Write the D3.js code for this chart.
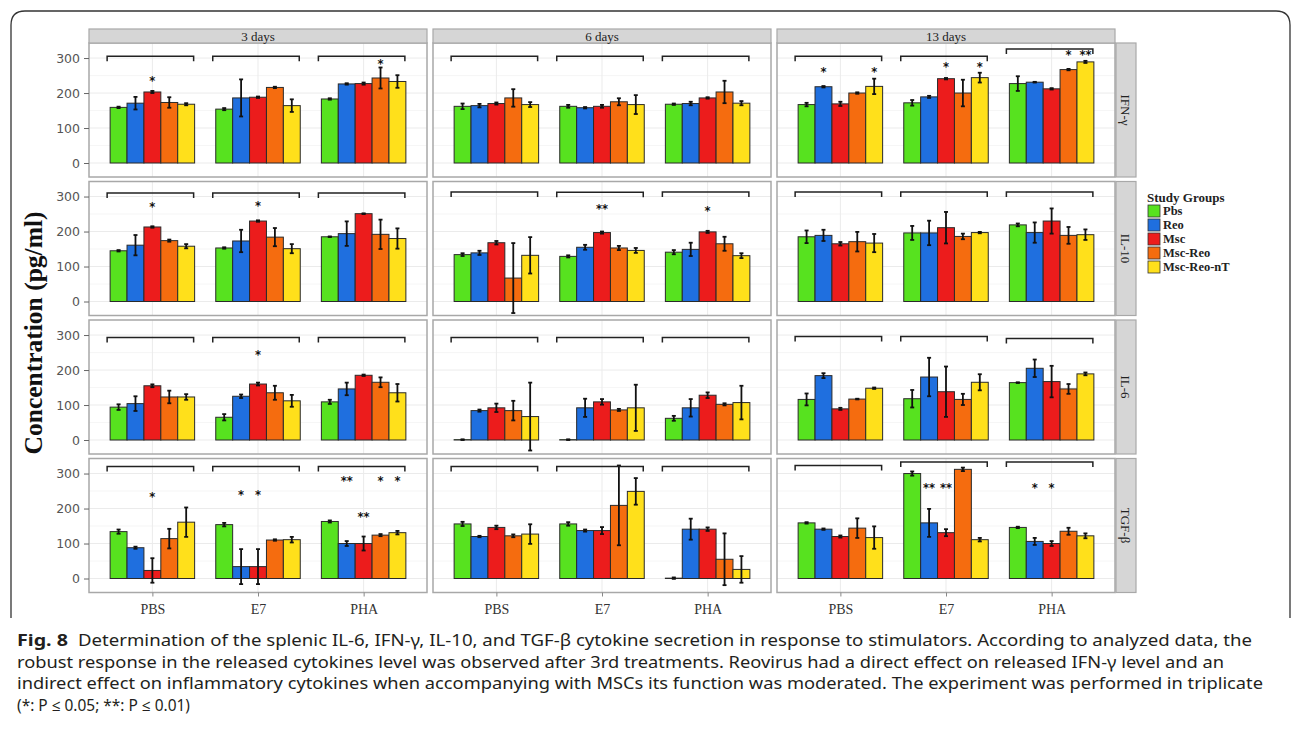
<!DOCTYPE html>
<html>
<head>
<meta charset="utf-8">
<script src="https://cdn.jsdelivr.net/npm/d3@7"></script>
<style>
  body { margin: 0; background: #fff; }
</style>
</head>
<body>
<svg id="chart" width="1293" height="740"></svg>
<script>
const width = 1293;
const height = 740;

const days = ['3 days', '6 days', '13 days'];
const cytokines = ['IFN-γ', 'IL-10', 'IL-6', 'TGF-β'];
const stimuli = ['PBS', 'E7', 'PHA'];
const groups = ['Pbs', 'Reo', 'Msc', 'Msc-Reo', 'Msc-Reo-nT'];
const groupColors = ['#57e21f', '#1f6fdf', '#ec1c1c', '#f56c0f', '#ffe01b'];
const yTicks = [0, 100, 200, 300];

// values are [day][stimulus][group], pg/ml
const ifnMean = [
  [[159, 171, 203, 173, 168], [154, 186, 188, 216, 164], [183, 226, 227, 243, 233]],
  [[162, 164, 170, 186, 167], [162, 158, 162, 175, 167], [168, 170, 186, 203, 171]],
  [[167, 218, 169, 200, 219], [172, 189, 241, 200, 244], [227, 231, 212, 267, 289]]
];
const ifnErr = [
  [[2, 18, 3, 15, 3], [3, 53, 2, 2, 18], [2, 2, 3, 30, 18]],
  [[8, 5, 3, 25, 7], [4, 2, 4, 10, 27], [2, 5, 2, 32, 6]],
  [[5, 2, 6, 2, 22], [8, 3, 2, 38, 14], [21, 1, 2, 2, 3]]
];
const il10Mean = [
  [[145, 161, 213, 174, 158], [153, 173, 230, 184, 151], [185, 194, 251, 192, 180]],
  [[134, 139, 168, 67, 132], [129, 155, 197, 153, 146], [141, 149, 199, 165, 131]],
  [[185, 189, 165, 171, 167], [196, 196, 211, 186, 197], [219, 197, 230, 189, 191]]
];
const il10Err = [
  [[2, 29, 2, 3, 6], [2, 32, 2, 26, 13], [1, 35, 1, 42, 29]],
  [[4, 6, 5, 100, 52], [3, 7, 3, 6, 7], [6, 19, 3, 20, 7]],
  [[18, 16, 5, 28, 26], [20, 35, 45, 8, 2], [4, 29, 36, 24, 15]]
];
const il6Mean = [
  [[94, 104, 155, 123, 123], [65, 125, 160, 135, 112], [109, 146, 185, 165, 135]],
  [[1, 84, 92, 84, 67], [1, 92, 109, 86, 92], [62, 92, 128, 102, 107]],
  [[116, 184, 89, 117, 148], [118, 180, 138, 116, 165], [164, 205, 167, 146, 189]]
];
const il6Err = [
  [[8, 21, 4, 18, 8], [9, 5, 4, 20, 17], [6, 18, 2, 14, 25]],
  [[1, 3, 12, 28, 97], [1, 26, 8, 3, 66], [7, 25, 8, 3, 48]],
  [[17, 7, 3, 1, 2], [25, 55, 72, 16, 23], [1, 25, 45, 14, 4]]
];
const tgfMean = [
  [[134, 88, 23, 114, 161], [154, 34, 34, 110, 111], [163, 100, 100, 124, 131]],
  [[156, 120, 146, 122, 127], [156, 137, 137, 209, 249], [1, 141, 141, 55, 26]],
  [[159, 141, 120, 144, 117], [300, 159, 131, 312, 111], [146, 106, 100, 135, 122]]
];
const tgfErr = [
  [[6, 3, 35, 28, 42], [5, 50, 50, 2, 8], [3, 7, 20, 3, 5]],
  [[6, 2, 5, 4, 28], [5, 3, 10, 114, 38], [2, 30, 5, 74, 38]],
  [[2, 2, 3, 28, 32], [6, 40, 10, 5, 5], [2, 10, 7, 10, 7]]
];

// height of the comparison bracket, [cytokine][day][stimulus]
const bracketY = [
  [[305, 305, 305], [305, 305, 305], [305, 305, 326]],
  [[310, 310, 310], [313, 312, 313], [313, 313, 313]],
  [[293, 293, 293], [293, 293, 293], [296, 296, 290]],
  [[320, 320, 320], [320, 320, 320], [323, 333, 333]]
];

// significance marks: [cytokine, day, stimulus, group, label, y]
const stars = [
  [0, 0, 0, 2, '*', 240], [0, 0, 2, 3, '*', 290],
  [0, 2, 0, 1, '*', 267], [0, 2, 0, 4, '*', 267],
  [0, 2, 1, 2, '*', 280], [0, 2, 1, 4, '*', 280],
  [0, 2, 2, 3, '*', 316], [0, 2, 2, 4, '**', 316],
  [1, 0, 0, 2, '*', 278], [1, 0, 1, 2, '*', 281],
  [1, 1, 1, 2, '**', 271], [1, 1, 2, 2, '*', 264],
  [2, 0, 1, 2, '*', 250],
  [3, 0, 0, 2, '*', 240], [3, 0, 1, 1, '*', 245], [3, 0, 1, 2, '*', 245],
  [3, 0, 2, 1, '**', 286], [3, 0, 2, 2, '**', 182],
  [3, 0, 2, 3, '*', 286], [3, 0, 2, 4, '*', 286],
  [3, 2, 1, 1, '**', 264], [3, 2, 1, 2, '**', 264],
  [3, 2, 2, 1, '*', 266], [3, 2, 2, 2, '*', 266]
];

const captionLines = [
  'Determination of the splenic IL-6, IFN-γ, IL-10, and TGF-β cytokine secretion in response to stimulators. According to analyzed data, the',
  'robust response in the released cytokines level was observed after 3rd treatments. Reovirus had a direct effect on released IFN-γ level and an',
  'indirect effect on inflammatory cytokines when accompanying with MSCs its function was moderated. The experiment was performed in triplicate',
  '(*: P ≤ 0.05; **: P ≤ 0.01)'
];

const means = [ifnMean, il10Mean, il6Mean, tgfMean];
const errs = [ifnErr, il10Err, il6Err, tgfErr];

const serif = '"Liberation Serif", "Times New Roman", serif';
const colX = [89, 433, 777];
const pw = 338;
const ph = 134;
const rowTop = 43;
const rowStep = 138.5;
const gridCol = '#ebebeb';
const borderCol = '#a8a8a8';
const stripFill = '#d6d6d6';

const svg = d3.select('#chart');

let x = d3.scalePoint().domain(stimuli).range([0, pw]).padding(0.6);
let step = x.step();
let xg = d3.scaleBand().domain(groups).range([-0.4 * step, 0.4 * step]);
let y = d3.scaleLinear().domain([-40, 343]).range([ph, 0]);
let color = d3.scaleOrdinal().domain(groups).range(groupColors);

// outer frame of the figure
svg.append('path')
  .attr('d', 'M11,618 V25 Q11,11 25,11 H1276 Q1290,11 1290,25 V618')
  .attr('fill', 'none')
  .attr('stroke', '#333')
  .attr('stroke-width', 1.3);

cytokines.forEach((cyto, ci) => {
  days.forEach((day, di) => {
    let g = svg.append('g')
      .attr('transform', `translate(${colX[di]},${rowTop + ci * rowStep})`);

    g.append('rect').attr('width', pw).attr('height', ph).attr('fill', '#fff');

    // minor then major grid
    [50, 150, 250].forEach(v => {
      g.append('line').attr('x1', 0).attr('x2', pw)
        .attr('y1', y(v)).attr('y2', y(v))
        .attr('stroke', '#f4f4f4').attr('stroke-width', 0.8);
    });
    yTicks.forEach(v => {
      g.append('line').attr('x1', 0).attr('x2', pw)
        .attr('y1', y(v)).attr('y2', y(v))
        .attr('stroke', gridCol).attr('stroke-width', 1);
    });
    stimuli.forEach(s => {
      g.append('line').attr('x1', x(s)).attr('x2', x(s))
        .attr('y1', 0).attr('y2', ph)
        .attr('stroke', gridCol).attr('stroke-width', 1);
    });

    stimuli.forEach((s, si) => {
      let rows = groups.map((grp, gi) => ({
        grp: grp,
        value: means[ci][di][si][gi],
        err: errs[ci][di][si][gi]
      }));

      g.selectAll(null).data(rows).enter().append('rect')
        .attr('x', d => x(s) + xg(d.grp))
        .attr('width', xg.bandwidth())
        .attr('y', d => y(d.value))
        .attr('height', d => y(0) - y(d.value))
        .attr('fill', d => color(d.grp))
        .attr('stroke', '#2a2a2a')
        .attr('stroke-width', 1);

      let eb = g.selectAll(null).data(rows).enter().append('g')
        .attr('transform', d => `translate(${x(s) + xg(d.grp) + xg.bandwidth() / 2},0)`)
        .attr('stroke', '#111')
        .attr('stroke-width', 1.8);
      eb.append('line')
        .attr('y1', d => y(d.value + d.err))
        .attr('y2', d => y(d.value - d.err));
      eb.append('line').attr('x1', -2).attr('x2', 2)
        .attr('y1', d => y(d.value + d.err)).attr('y2', d => y(d.value + d.err));
      eb.append('line').attr('x1', -2).attr('x2', 2)
        .attr('y1', d => y(d.value - d.err)).attr('y2', d => y(d.value - d.err));

      // bracket over the stimulus group
      let by = y(bracketY[ci][di][si]);
      let bx0 = x(s) - 0.4 * step - 3;
      let bx1 = x(s) + 0.4 * step - 1;
      g.append('path')
        .attr('d', `M${bx0},${by + 5} V${by} H${bx1} V${by + 5}`)
        .attr('fill', 'none')
        .attr('stroke', '#222')
        .attr('stroke-width', 1.5);
    });

    stars.filter(d => d[0] === ci && d[1] === di).forEach(d => {
      g.append('text')
        .attr('x', x(stimuli[d[2]]) + xg(groups[d[3]]) + xg.bandwidth() / 2)
        .attr('y', y(d[5]))
        .attr('dy', '0.55em')
        .attr('text-anchor', 'middle')
        .attr('font-family', 'DejaVu Sans, sans-serif')
        .attr('font-weight', 'bold')
        .attr('font-size', 11.5)
        .attr('fill', '#111')
        .text(d[4]);
    });

    g.append('rect').attr('width', pw).attr('height', ph)
      .attr('fill', 'none').attr('stroke', borderCol).attr('stroke-width', 1.5);

    if (di === 0) {
      let ya = g.append('g').call(d3.axisLeft(y).tickValues(yTicks).tickSize(5).tickPadding(4));
      ya.select('.domain').remove();
      ya.selectAll('line').attr('stroke', '#666');
      ya.selectAll('text')
        .attr('font-family', 'DejaVu Sans, sans-serif')
        .attr('font-size', 12.5)
        .attr('fill', '#555');
    }
    if (ci === cytokines.length - 1) {
      let xa = g.append('g').attr('transform', `translate(0,${ph})`)
        .call(d3.axisBottom(x).tickSize(4).tickPadding(8));
      xa.select('.domain').remove();
      xa.selectAll('line').attr('stroke', '#888');
      xa.selectAll('text')
        .attr('font-family', serif)
        .attr('font-size', 14)
        .attr('fill', '#333');
    }
  });

  // right facet strip
  let ry = rowTop + ci * rowStep;
  svg.append('rect').attr('x', colX[2] + pw + 1).attr('y', ry)
    .attr('width', 20).attr('height', ph)
    .attr('fill', stripFill).attr('stroke', borderCol).attr('stroke-width', 1.2);
  svg.append('text')
    .attr('transform', `translate(${colX[2] + pw + 11},${ry + ph / 2}) rotate(90)`)
    .attr('text-anchor', 'middle')
    .attr('dy', '0.35em')
    .attr('font-family', serif)
    .attr('font-size', 13)
    .attr('fill', '#222')
    .text(cyto);
});

// top facet strips
days.forEach((day, di) => {
  svg.append('rect').attr('x', colX[di]).attr('y', 29)
    .attr('width', pw).attr('height', 14)
    .attr('fill', stripFill).attr('stroke', borderCol).attr('stroke-width', 1.2);
  svg.append('text')
    .attr('x', colX[di] + pw / 2).attr('y', 36)
    .attr('dy', '0.35em')
    .attr('text-anchor', 'middle')
    .attr('font-family', serif)
    .attr('font-size', 13)
    .attr('fill', '#222')
    .text(day);
});

// y axis title
svg.append('text')
  .attr('transform', 'translate(42,333) rotate(-90)')
  .attr('text-anchor', 'middle')
  .attr('font-family', serif)
  .attr('font-weight', 'bold')
  .attr('font-size', 25.5)
  .attr('fill', '#111')
  .text('Concentration (pg/ml)');

// legend
let legend = svg.append('g').attr('transform', 'translate(1147,198)');
legend.append('text')
  .attr('x', 0).attr('y', 4)
  .attr('font-family', serif).attr('font-weight', 'bold')
  .attr('font-size', 13).attr('fill', '#222')
  .text('Study Groups');
groups.forEach((grp, gi) => {
  let ly = 13 + gi * 14;
  legend.append('rect').attr('x', 1).attr('y', ly - 6)
    .attr('width', 12).attr('height', 12)
    .attr('fill', color(grp)).attr('stroke', '#333').attr('stroke-width', 0.8);
  legend.append('text')
    .attr('x', 16).attr('y', ly).attr('dy', '0.35em')
    .attr('font-family', serif).attr('font-weight', 'bold')
    .attr('font-size', 12.5).attr('fill', '#222')
    .text(grp);
});

// caption, stretched to the widths of the printed lines
let cap = svg.append('g')
  .attr('font-family', '"Noto Sans", "Open Sans", sans-serif')
  .attr('font-size', 15.5)
  .attr('fill', '#231f20');
cap.append('text').attr('x', 17).attr('y', 646)
  .attr('font-weight', 'bold')
  .attr('textLength', 51).attr('lengthAdjust', 'spacingAndGlyphs')
  .text('Fig. 8');
const capX = [78, 17, 17, 17];
const capW = [1174, 1207, 1246, 173];
captionLines.forEach((line, i) => {
  cap.append('text')
    .attr('x', capX[i]).attr('y', 646 + i * 21.5)
    .attr('textLength', capW[i]).attr('lengthAdjust', 'spacingAndGlyphs')
    .text(line);
});
</script>
</body>
</html>
